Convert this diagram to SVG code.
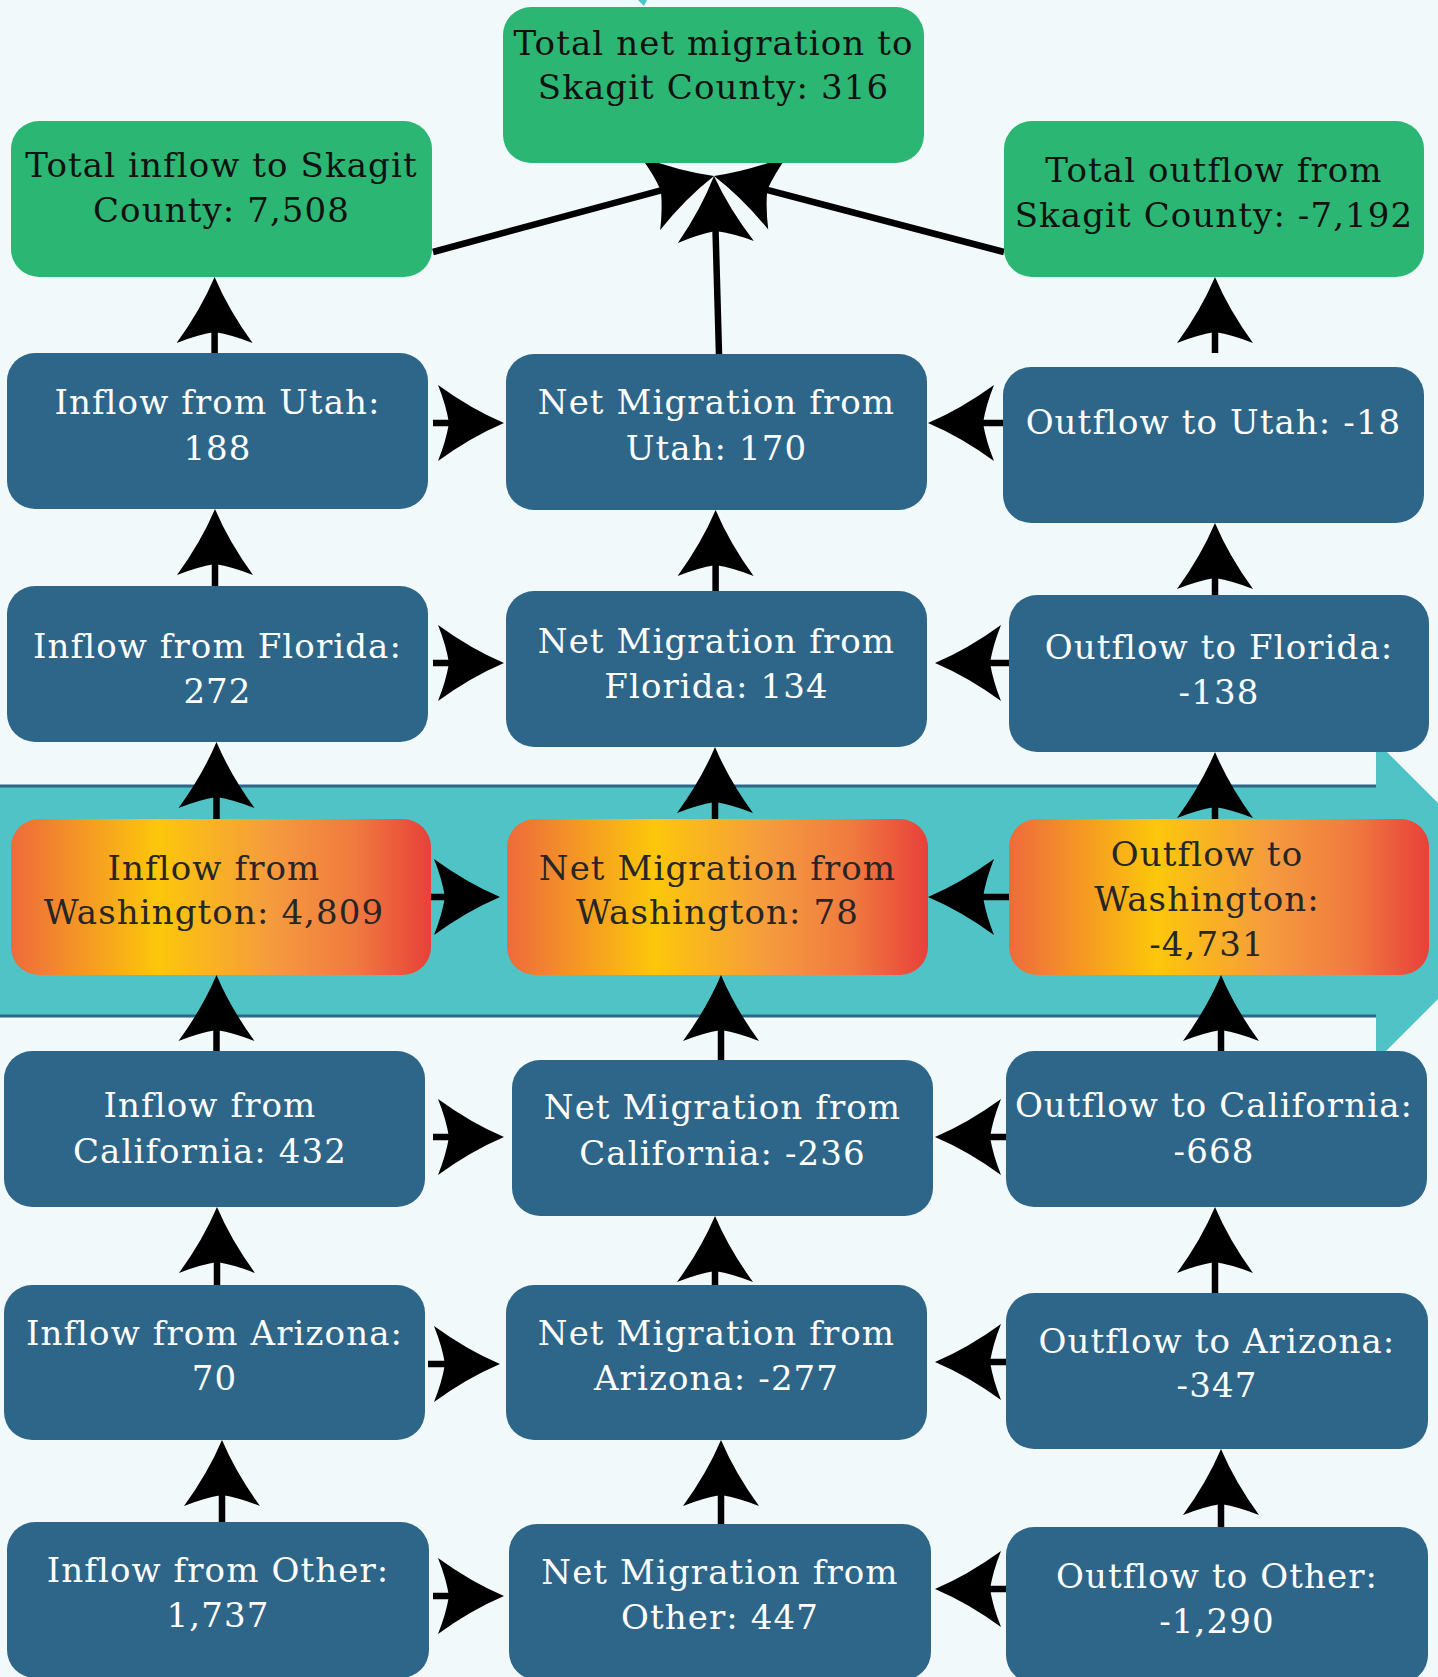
<svg xmlns="http://www.w3.org/2000/svg" width="1438" height="1677" viewBox="0 0 1438 1677">
<style>
.n rect{stroke:none}
.b{fill:#2e6689}
.g{fill:#2cb673}
.w{fill:url(#wg)}
text{font-family:"DejaVu Serif","Liberation Serif",serif;font-size:34px;letter-spacing:1.1px;text-anchor:middle}
.tb{fill:#ffffff}
.tg{fill:#111111}
.tw{fill:#262626}
.c line{stroke:#000;stroke-width:6.5;marker-end:url(#ah)}
</style>
<defs>
<linearGradient id="wg" x1="0" y1="0" x2="1" y2="0">
<stop offset="0" stop-color="#ee6a3c"/>
<stop offset="0.35" stop-color="#fcc70b"/>
<stop offset="0.62" stop-color="#f59b3e"/>
<stop offset="0.82" stop-color="#f07a3f"/>
<stop offset="1" stop-color="#e8403a"/>
</linearGradient>
<marker id="ah" markerUnits="userSpaceOnUse" viewBox="-20 -40 74 80" markerWidth="74" markerHeight="80" refX="0" refY="0" orient="auto" overflow="visible">
<path d="M50,0 Q17,-14 -16,-38 Q-8,-18 -5,0 Q-8,18 -16,38 Q17,14 50,0 Z" fill="#000"/>
</marker>
</defs>
<rect width="1438" height="1677" fill="#f1f9fb"/>
<g id="band">
<rect x="0" y="786" width="1378" height="230" fill="#50c3c6"/>
<polygon points="1376,741 1536,901 1376,1061" fill="#50c3c6"/>
<line x1="0" y1="786" x2="1376" y2="786" stroke="#2e6689" stroke-width="3"/>
<line x1="0" y1="1016" x2="1376" y2="1016" stroke="#2e6689" stroke-width="3"/>
<path d="M638,0 L644,6 L647,0 Z" fill="#50c3c6"/>
</g>
<g class="c" id="connectors">
<line x1="433" y1="252" x2="665.7" y2="189.1"/>
<line x1="1004" y1="252" x2="762.4" y2="188.7"/>
<line x1="719" y1="354" x2="715.4" y2="226"/>
<line x1="214.6" y1="353" x2="214.6" y2="327"/>
<line x1="215" y1="586" x2="215" y2="559"/>
<line x1="216.5" y1="819" x2="216.5" y2="792"/>
<line x1="216.5" y1="1051" x2="216.5" y2="1025"/>
<line x1="217" y1="1285" x2="217" y2="1257"/>
<line x1="222" y1="1522" x2="222" y2="1490"/>
<line x1="715.6" y1="591" x2="715.6" y2="560"/>
<line x1="715" y1="819" x2="715" y2="797"/>
<line x1="721" y1="1060" x2="721" y2="1025"/>
<line x1="715" y1="1285" x2="715" y2="1266"/>
<line x1="721" y1="1524" x2="721" y2="1490"/>
<line x1="1215" y1="353" x2="1215" y2="327"/>
<line x1="1215" y1="595" x2="1215" y2="573"/>
<line x1="1215" y1="819" x2="1215" y2="802"/>
<line x1="1221" y1="1051" x2="1221" y2="1025"/>
<line x1="1215" y1="1293" x2="1215" y2="1257"/>
<line x1="1221" y1="1527" x2="1221" y2="1499"/>
<line x1="433" y1="423" x2="454" y2="423"/>
<line x1="1003" y1="423" x2="978" y2="423"/>
<line x1="433" y1="663" x2="454" y2="663"/>
<line x1="1009" y1="663" x2="985" y2="663"/>
<line x1="431" y1="897" x2="450" y2="897"/>
<line x1="1009" y1="897" x2="978" y2="897"/>
<line x1="433" y1="1137" x2="454" y2="1137"/>
<line x1="1006" y1="1137" x2="985" y2="1137"/>
<line x1="428" y1="1364" x2="450" y2="1364"/>
<line x1="1006" y1="1362" x2="985" y2="1362"/>
<line x1="433" y1="1596" x2="454" y2="1596"/>
<line x1="1006" y1="1589" x2="985" y2="1589"/>
</g>
<g class="n" id="total-net"><rect class="g" x="503" y="7" width="421" height="156" rx="28"/><text class="tg" x="713.5" y="55">Total net migration to</text><text class="tg" x="713.5" y="99">Skagit County: 316</text></g>
<g class="n" id="total-inflow"><rect class="g" x="11" y="121" width="421" height="156" rx="28"/><text class="tg" x="221.5" y="177">Total inflow to Skagit</text><text class="tg" x="221.5" y="222">County: 7,508</text></g>
<g class="n" id="total-outflow"><rect class="g" x="1004" y="121" width="420" height="156" rx="28"/><text class="tg" x="1214" y="182">Total outflow from</text><text class="tg" x="1214" y="227">Skagit County: -7,192</text></g>
<g class="n" id="in-utah"><rect class="b" x="7" y="353" width="421" height="156" rx="28"/><text class="tb" x="217.5" y="414">Inflow from Utah:</text><text class="tb" x="217.5" y="460">188</text></g>
<g class="n" id="net-utah"><rect class="b" x="506" y="354" width="421" height="156" rx="28"/><text class="tb" x="716.5" y="414">Net Migration from</text><text class="tb" x="716.5" y="460">Utah: 170</text></g>
<g class="n" id="out-utah"><rect class="b" x="1003" y="367" width="421" height="156" rx="28"/><text class="tb" x="1213.5" y="434">Outflow to Utah: -18</text></g>
<g class="n" id="in-florida"><rect class="b" x="7" y="586" width="421" height="156" rx="28"/><text class="tb" x="217.5" y="658">Inflow from Florida:</text><text class="tb" x="217.5" y="703">272</text></g>
<g class="n" id="net-florida"><rect class="b" x="506" y="591" width="421" height="156" rx="28"/><text class="tb" x="716.5" y="653">Net Migration from</text><text class="tb" x="716.5" y="698">Florida: 134</text></g>
<g class="n" id="out-florida"><rect class="b" x="1009" y="595" width="420" height="157" rx="28"/><text class="tb" x="1219" y="659">Outflow to Florida:</text><text class="tb" x="1219" y="704">-138</text></g>
<g class="n" id="in-washington"><rect class="w" x="11" y="819" width="420" height="156" rx="28"/><text class="tw" x="214" y="880">Inflow from</text><text class="tw" x="214" y="924">Washington: 4,809</text></g>
<g class="n" id="net-washington"><rect class="w" x="507" y="819" width="421" height="156" rx="28"/><text class="tw" x="717.5" y="880">Net Migration from</text><text class="tw" x="717.5" y="924">Washington: 78</text></g>
<g class="n" id="out-washington"><rect class="w" x="1009" y="819" width="420" height="156" rx="28"/><text class="tw" x="1207" y="866">Outflow to</text><text class="tw" x="1207" y="911">Washington:</text><text class="tw" x="1207" y="956">-4,731</text></g>
<g class="n" id="in-california"><rect class="b" x="4" y="1051" width="421" height="156" rx="28"/><text class="tb" x="210" y="1117">Inflow from</text><text class="tb" x="210" y="1163">California: 432</text></g>
<g class="n" id="net-california"><rect class="b" x="512" y="1060" width="421" height="156" rx="28"/><text class="tb" x="722.5" y="1119">Net Migration from</text><text class="tb" x="722.5" y="1165">California: -236</text></g>
<g class="n" id="out-california"><rect class="b" x="1006" y="1051" width="421" height="156" rx="28"/><text class="tb" x="1214" y="1117">Outflow to California:</text><text class="tb" x="1214" y="1163">-668</text></g>
<g class="n" id="in-arizona"><rect class="b" x="4" y="1285" width="421" height="155" rx="28"/><text class="tb" x="214.5" y="1345">Inflow from Arizona:</text><text class="tb" x="214.5" y="1390">70</text></g>
<g class="n" id="net-arizona"><rect class="b" x="506" y="1285" width="421" height="155" rx="28"/><text class="tb" x="716.5" y="1345">Net Migration from</text><text class="tb" x="716.5" y="1390">Arizona: -277</text></g>
<g class="n" id="out-arizona"><rect class="b" x="1006" y="1293" width="422" height="156" rx="28"/><text class="tb" x="1217" y="1353">Outflow to Arizona:</text><text class="tb" x="1217" y="1397">-347</text></g>
<g class="n" id="in-other"><rect class="b" x="7" y="1522" width="422" height="156" rx="28"/><text class="tb" x="218" y="1582">Inflow from Other:</text><text class="tb" x="218" y="1627">1,737</text></g>
<g class="n" id="net-other"><rect class="b" x="509" y="1524" width="422" height="156" rx="28"/><text class="tb" x="720" y="1584">Net Migration from</text><text class="tb" x="720" y="1629">Other: 447</text></g>
<g class="n" id="out-other"><rect class="b" x="1006" y="1527" width="422" height="156" rx="28"/><text class="tb" x="1217" y="1588">Outflow to Other:</text><text class="tb" x="1217" y="1633">-1,290</text></g>
</svg>
